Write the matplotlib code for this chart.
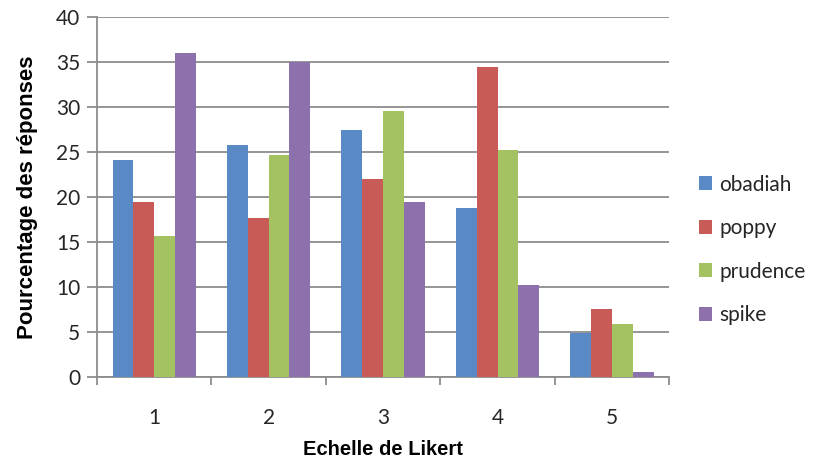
import numpy as np
import matplotlib
matplotlib.use("Agg")
import matplotlib.pyplot as plt
from matplotlib.ticker import FixedLocator

categories = ["1", "2", "3", "4", "5"]
series_names = ["obadiah", "poppy", "prudence", "spike"]
obadiah = [24.1, 25.8, 27.4, 18.8, 4.85]
poppy = [19.4, 17.7, 22.0, 34.4, 7.5]
prudence = [15.6, 24.7, 29.5, 25.2, 5.9]
spike = [36.0, 35.0, 19.4, 10.2, 0.55]
colors = ["#5A8AC6", "#C85B58", "#A5C262", "#8D71AD"]
y_ticks = [0, 5, 10, 15, 20, 25, 30, 35, 40]

series = [obadiah, poppy, prudence, spike]

fig = plt.figure(figsize=(8.19, 4.61), dpi=100)
ax = fig.add_axes([0.1185, 0.1822, 0.6985, 0.7816])

x = np.arange(len(categories))
bar_w = 1 / 5.5
for i, (name, vals, c) in enumerate(zip(series_names, series, colors)):
    offs = (i - 1.5) * bar_w
    ax.bar(x + offs, vals, width=bar_w, color=c, label=name, zorder=3,
           linewidth=0)

ax.set_xlim(-0.5, len(categories) - 0.5)
ax.set_ylim(0, 40)
ax.set_yticks(y_ticks)
ax.set_xticks(x)
ax.set_xticklabels(categories)
ax.xaxis.set_minor_locator(FixedLocator(np.arange(-0.5, len(categories), 1.0)))

grid_c = "#8C8C8C"
ax.yaxis.grid(True, color=grid_c, linewidth=1.3, zorder=0)
ax.set_axisbelow(True)
for s in ["top", "right"]:
    ax.spines[s].set_visible(False)
for s in ["left", "bottom"]:
    ax.spines[s].set_color(grid_c)
    ax.spines[s].set_linewidth(1.3)

tick_font = "Lato"
ax.tick_params(axis="y", direction="out", length=7, width=1.3, color=grid_c,
               labelsize=15, pad=5, labelcolor="#262626")
ax.tick_params(axis="x", which="major", length=0, labelsize=15, pad=22,
               labelcolor="#262626")
ax.tick_params(axis="x", which="minor", direction="out", length=6, width=1.3,
               color=grid_c)
for lab in ax.get_xticklabels() + ax.get_yticklabels():
    lab.set_fontfamily(tick_font)

ax.set_ylabel("Pourcentage des réponses", fontfamily="Liberation Sans",
              fontweight="bold", fontsize=16, labelpad=13)
ax.set_xlabel("Echelle de Likert", fontfamily="Liberation Sans",
              fontweight="bold", fontsize=14.5, labelpad=9)

leg = fig.legend(loc="center left", bbox_to_anchor=(0.853, 0.458),
                 bbox_transform=fig.transFigure, frameon=False,
                 prop={"family": tick_font, "size": 15}, handlelength=0.65,
                 handleheight=0.65, handletextpad=0.35, labelspacing=1.13,
                 borderpad=0, borderaxespad=0)
for t in leg.get_texts():
    t.set_color("#262626")

fig.savefig("out.png", dpi=100)
